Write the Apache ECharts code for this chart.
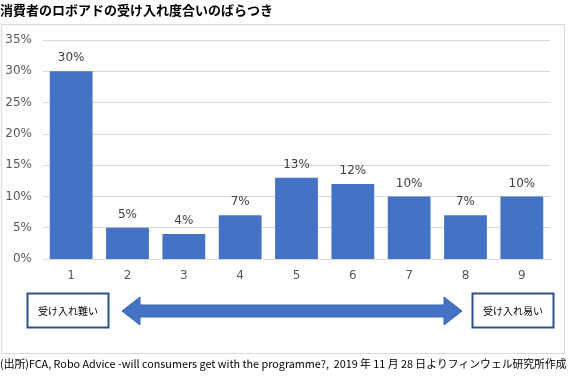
<!DOCTYPE html>
<html><head><meta charset="utf-8">
<script src="https://cdn.jsdelivr.net/npm/echarts@6/dist/echarts.min.js"></script>
<style>html,body{margin:0;padding:0;background:#fff}#c{width:572px;height:385px}</style>
</head><body><div id="c"></div>
<script>
const categories = ['1','2','3','4','5','6','7','8','9'];
const values = [30, 5, 4, 7, 13, 12, 10, 7, 10];
const yTicks = [0, 5, 10, 15, 20, 25, 30, 35];
const titleText = '消費者のロボアドの受け入れ度合いのばらつき';
const leftLabel = '受け入れ難い';
const rightLabel = '受け入れ易い';
const sourceText = '(出所)FCA, Robo Advice -will consumers get with the programme?,  2019 年 11 月 28 日よりフィンウェル研究所作成';

const chart = echarts.init(document.getElementById('c'), null, {renderer:'canvas'});
const jp = '"Noto Sans CJK JP", sans-serif';
const num = '"DejaVu Sans", Verdana, sans-serif';
chart.setOption({
  animation: false,
  grid: {left: 43, right: 22, top: 40, bottom: 126, containLabel: false},
  xAxis: {
    type: 'category', data: categories,
    axisLine: {lineStyle: {color: '#d9d9d9'}},
    axisTick: {show: false},
    axisLabel: {color: '#595959', fontFamily: num, fontSize: 12, margin: 11}
  },
  yAxis: {
    type: 'value', min: yTicks[0], max: yTicks[yTicks.length-1], interval: 5,
    axisLine: {show: false}, axisTick: {show: false},
    splitLine: {lineStyle: {color: '#d9d9d9'}},
    axisLabel: {color: '#595959', fontFamily: num, fontSize: 12, margin: 11, formatter: v => v + '%'}
  },
  series: [{
    type: 'bar', data: values, barCategoryGap: '24%',
    itemStyle: {color: '#4472c4'},
    label: {show: true, position: 'top', distance: 7, color: '#404040', fontFamily: num, fontSize: 12, formatter: p => p.value + '%'}
  }],
  graphic: [
    {type: 'rect', shape: {x: 1.5, y: 24.5, width: 563, height: 329}, style: {fill: 'none', stroke: '#d9d9d9', lineWidth: 1}, z: -1},
    {type: 'text', left: 0, top: 4, style: {text: titleText, font: 'bold 13px ' + jp, fill: '#000'}},
    {type: 'rect', shape: {x: 27.5, y: 293.5, width: 81, height: 34}, style: {fill: '#fff', stroke: '#2f528f', lineWidth: 2}},
    {type: 'text', style: {x: 68, y: 311, text: leftLabel, font: '10px ' + jp, fill: '#000', align: 'center', verticalAlign: 'middle'}},
    {type: 'rect', shape: {x: 472.5, y: 293.5, width: 81, height: 34}, style: {fill: '#fff', stroke: '#2f528f', lineWidth: 2}},
    {type: 'text', style: {x: 513, y: 311, text: rightLabel, font: '10px ' + jp, fill: '#000', align: 'center', verticalAlign: 'middle'}},
    {type: 'polygon', shape: {points: [[122,311],[140,297],[140,305],[444,305],[444,297],[462,311],[444,325],[444,317],[140,317],[140,325]]},
      style: {fill: '#4472c4', stroke: '#3a64ad', lineWidth: 1}},
    {type: 'text', left: 0, top: 359, style: {text: sourceText, font: '10.8px ' + jp, fill: '#000'}}
  ]
});
</script></body></html>
